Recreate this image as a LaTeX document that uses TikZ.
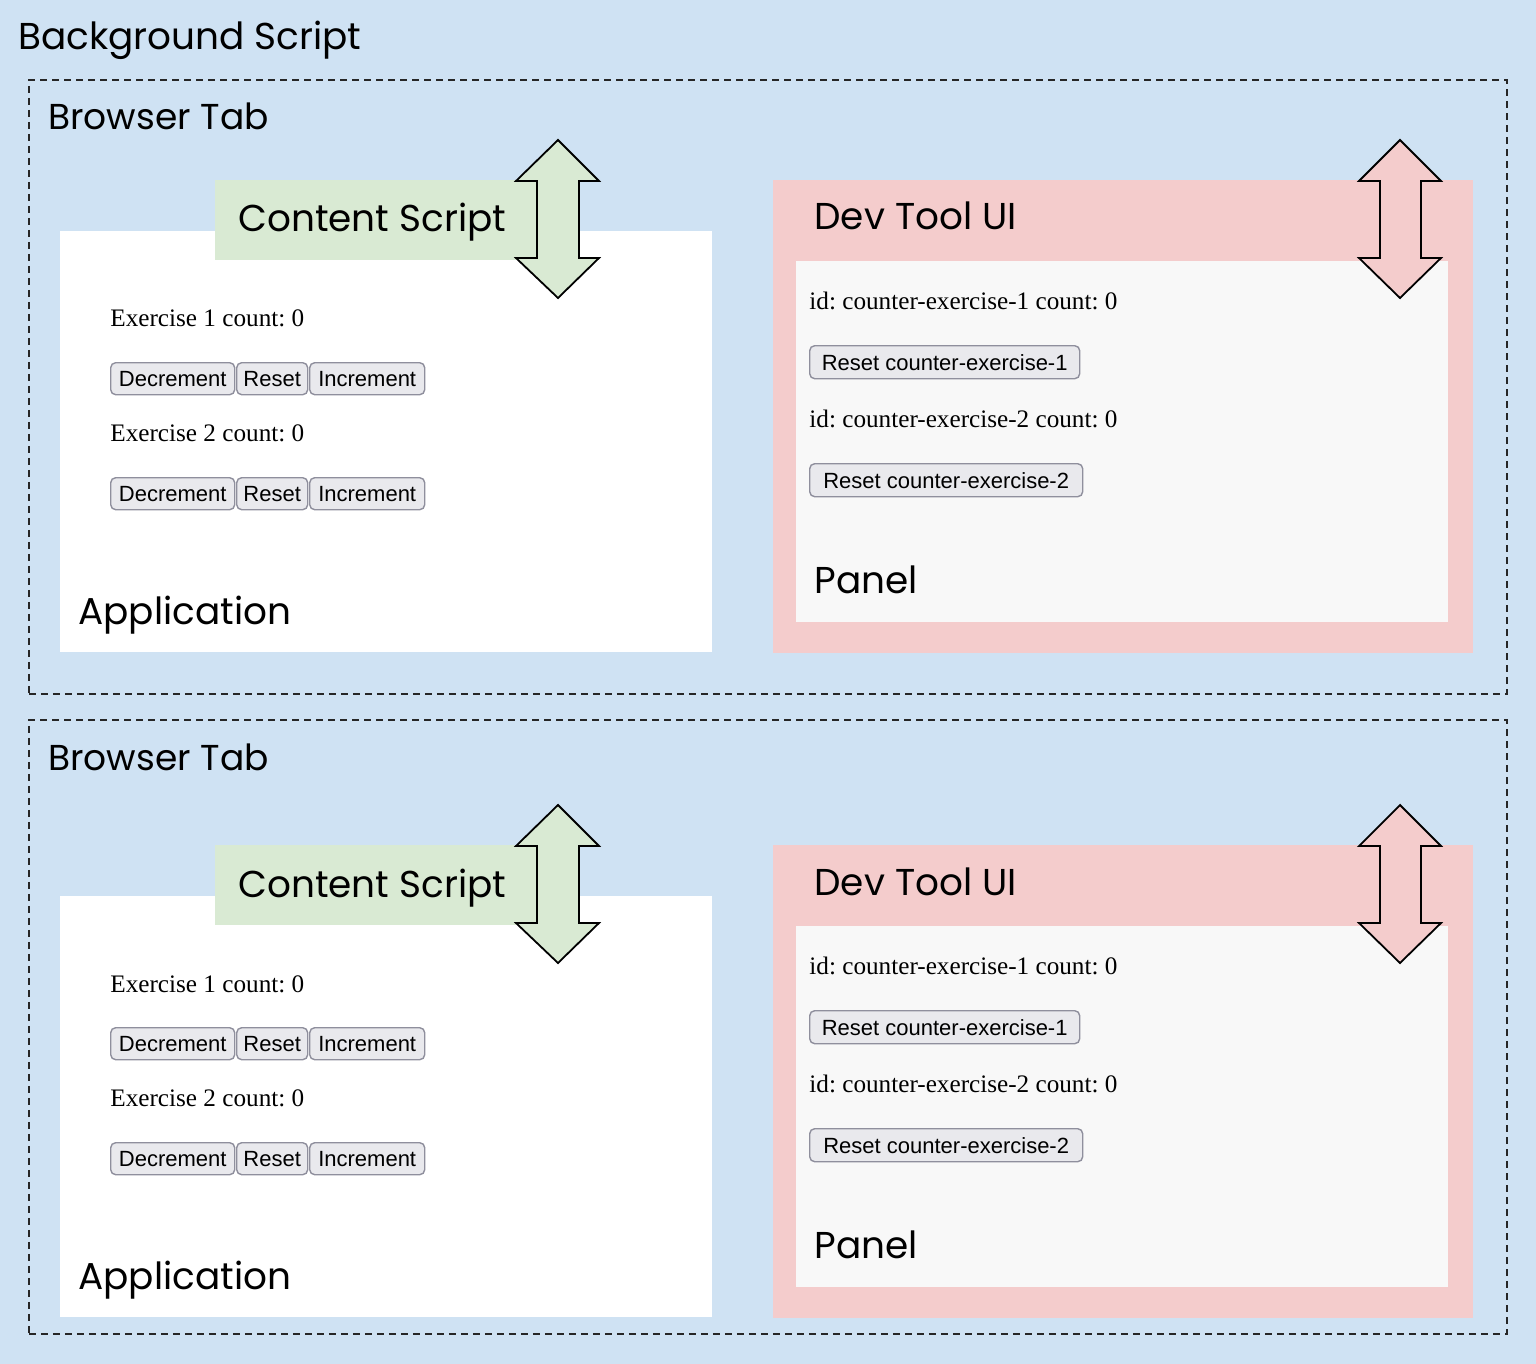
\documentclass[tikz,border=0pt]{standalone}
\usepackage{fontspec}
\setmainfont{Liberation Serif}
\newfontfamily\titlefont{Poppins}
\newfontfamily\btnfont{Liberation Sans}
\definecolor{bgblue}{HTML}{CFE2F3}
\definecolor{csgreen}{HTML}{D9EAD3}
\definecolor{devpink}{HTML}{F4CCCC}
\definecolor{panelgray}{HTML}{F8F8F8}
\definecolor{btnfill}{HTML}{E9E9ED}
\definecolor{btnline}{HTML}{8F8F9D}
\frenchspacing
\tikzset{
  box/.style={rectangle, inner sep=0pt, anchor=north west},
  tabbox/.style={box, draw=black!85, dashed, dash pattern=on 3.5pt off 2.5pt, line width=0.8pt},
  title/.style={inner sep=0pt, anchor=base west, font=\titlefont\fontsize{18.7}{22}\selectfont},
  tabtitle/.style={inner sep=0pt, anchor=base west, font=\titlefont\fontsize{18}{22}\selectfont},
  serif/.style={inner sep=0pt, anchor=base west, font=\fontsize{12.6}{14}\selectfont},
  btn/.style={rectangle, rounded corners=2.5pt, fill=btnfill, draw=btnline, line width=0.7pt,
    inner sep=0pt, anchor=north west, minimum height=16pt, font=\btnfont\fontsize{11}{12}\selectfont},
  dblarrow/.style={draw=black, line width=0.9pt, line join=miter}
}
\newcommand\drawtab[3]{%
  \node[tabbox, minimum width=739pt, minimum height=307pt] (#1tab) at (28,{79+#2}) {};
  \node[tabtitle] (#1tablabel) at (48,{130+#2}) {Browser Tab};
  \begin{scope}[shift={(0,#3)}]
    % application
    \node[box, fill=white, minimum width=326pt, minimum height=210.5pt] (#1app) at (60,231) {};
    \node[box, fill=csgreen, minimum width=172pt, minimum height=40pt] (#1cs) at (215,180) {};
    \node[title] (#1cslabel) at (238,232) {Content Script};
    \node[serif] (#1ex1) at (110,327) {Exercise 1 count: 0};
    \node[btn, minimum width=62pt] (#1dec1) at (110,362) {Decrement};
    \node[btn, minimum width=35.5pt] (#1res1) at (236,362) {Reset};
    \node[btn, minimum width=57.5pt] (#1inc1) at (309,362) {Increment};
    \node[serif] (#1ex2) at (110,441) {Exercise 2 count: 0};
    \node[btn, minimum width=62pt] (#1dec2) at (110,477) {Decrement};
    \node[btn, minimum width=35.5pt] (#1res2) at (236,477) {Reset};
    \node[btn, minimum width=57.5pt] (#1inc2) at (309,477) {Increment};
    \node[title] (#1applabel) at (78,624) {Application};
    \draw[dblarrow, fill=csgreen] (558,140) -- (599,181) -- (579,181) -- (579,258) -- (599,258)
      -- (558,298) -- (516,258) -- (537,258) -- (537,181) -- (516,181) -- cycle;
    % dev tool
    \node[box, fill=devpink, minimum width=350pt, minimum height=236.5pt] (#1dev) at (773,180) {};
    \node[box, fill=panelgray, minimum width=326pt, minimum height=180.5pt] (#1panel) at (796,261) {};
    \node[title] (#1devlabel) at (814,230) {Dev Tool UI};
    \node[serif] (#1id1) at (809,309) {id: counter-exercise-1 count: 0};
    \node[btn, minimum width=135pt, minimum height=16.5pt] (#1rc1) at (809,345) {Reset counter-exercise-1};
    \node[serif] (#1id2) at (809,427) {id: counter-exercise-2 count: 0};
    \node[btn, minimum width=136.5pt, minimum height=16.5pt] (#1rc2) at (809,463) {Reset counter-exercise-2};
    \node[title] (#1panellabel) at (814,593) {Panel};
    \draw[dblarrow, fill=devpink] (1400,140) -- (1441,181) -- (1421,181) -- (1421,258) -- (1441,258)
      -- (1400,298) -- (1359,258) -- (1380,258) -- (1380,181) -- (1359,181) -- cycle;
  \end{scope}
}
\begin{document}
\begin{tikzpicture}[x=0.5pt,y=-0.5pt]
\fill[bgblue] (0,0) rectangle (1536,1364);
\useasboundingbox (0,0) rectangle (1536,1364);
\node[title] (bgtitle) at (18,50) {Background Script};
\drawtab{a}{0}{0}
\drawtab{b}{640}{665}
\end{tikzpicture}
\end{document}
